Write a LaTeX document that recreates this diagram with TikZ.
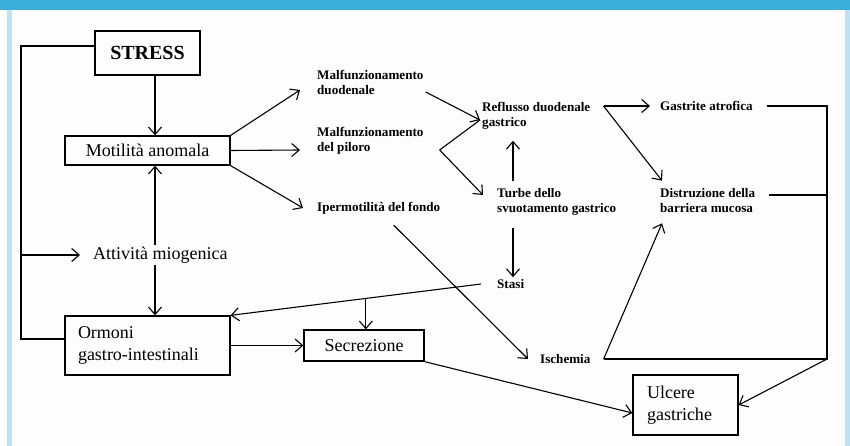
\documentclass[tikz,border=0pt]{standalone}
\usepackage{fontspec}
\setmainfont{Liberation Serif}
\usetikzlibrary{calc,arrows.meta}
\definecolor{barblue}{RGB}{58,174,216}
\definecolor{sideblue}{RGB}{192,225,241}
\definecolor{paper}{RGB}{253,253,253}

\begin{document}
\begin{tikzpicture}[x=1pt,y=-1pt]

% definitions
\tikzstyle{box} = [rectangle, draw=black, line width=1.3pt, inner sep=0pt]

\tikzstyle{stressbox} = [box, minimum width=105pt, minimum height=44pt, font=\bfseries\fontsize{20}{24}\selectfont]

\tikzstyle{wbox} = [box, minimum width=165pt, font=\fontsize{18}{21.6}\selectfont]

\tikzstyle{cause} = [anchor=west, align=left, inner sep=2pt, font=\bfseries\fontsize{13.1}{15}\selectfont]

\tikzstyle{arrow} = [-{Straight Barb[length=7.5pt,width=13pt]}, line width=1.1pt]

\tikzstyle{link} = [line width=1.1pt]

% frame
\useasboundingbox (0,0) rectangle (850,446);
\fill [paper] (0,0) rectangle (850,446);
\fill [barblue] (0,0) rectangle (850,10);
\fill [sideblue] (7,10) rectangle (12,446);
\fill [sideblue] (845,10) rectangle (850,446);

% the graph
\node (stress) [stressbox] at (147.5,53) {STRESS};

\node (mot) [wbox, minimum height=29pt] at (147.5,150.5) {Motilità anomala};

\node (att) [anchor=west, inner sep=2pt, font=\fontsize{18}{21.6}\selectfont] at (91,255) {Attività miogenica};

\node (orm) [wbox, minimum height=59pt, text width=139pt, inner xsep=13pt, align=left] at (147.5,345.5) {Ormoni\\gastro-intestinali};

\node (sec) [box, minimum width=120pt, minimum height=31pt, font=\fontsize{18}{21.6}\selectfont] at (364,345.5) {Secrezione};

\node (ulc) [box, minimum width=105pt, minimum height=60pt, text width=77pt, inner xsep=14pt, align=left, font=\fontsize{18}{21.6}\selectfont] at (685.5,405) {Ulcere\\gastriche};

\node (duo) [cause] at (315,82) {Malfunzionamento\\duodenale};
\node (pil) [cause] at (315,141) {Malfunzionamento\\del piloro};
\node (ipe) [cause] at (315,208) {Ipermotilità del fondo};
\node (ref) [cause] at (480,116) {Reflusso duodenale\\gastrico};
\node (tur) [cause] at (495,202) {Turbe dello\\svuotamento gastrico};
\node (sta) [cause] at (495,284) {Stasi};
\node (isc) [cause] at (538,359) {Ischemia};
\node (gas) [cause] at (658,106) {Gastrite atrofica};
\node (dis) [cause] at (658,201) {Distruzione della\\barriera mucosa};

% helper points
\coordinate (vx) at (155,0);
\coordinate (lx) at (21,0);
\coordinate (bx) at (827,0);
\coordinate (tx) at ($(tur.west)+(18,0)$);
\coordinate (sl) at ([yshift=7pt]stress.west);
\coordinate (ol) at ([yshift=6.5pt]orm.west);
\coordinate (rj) at ([yshift=-4pt]ref.west);
\coordinate (pv) at ($(pil.east)+(14,9)$);
\coordinate (rv) at ($(ref.east)+(11,-10)$);
\coordinate (iv) at ($(isc.east)+(11,0)$);
\coordinate (sa) at ([xshift=-14pt]sta.west);
\coordinate (sb) at ($(sa)!0.46!(orm.north east)$);
\coordinate (dr) at ([xshift=12pt,yshift=6pt]dis.east);

% left side
\draw [arrow] (stress.south -| vx) -- (mot.north -| vx);
\draw [arrow] (att.north -| vx) -- (mot.south -| vx);
\draw [arrow] (att.south -| vx) -- (orm.north -| vx);
\draw [link] (sl) -| (lx |- ol) -- (ol);
\draw [arrow] (lx |- att.west) -- ([xshift=-11pt]att.west);
\draw [arrow] (orm.east) -- (sec.west);

% motility branches
\draw [arrow] (mot.north east) -- ([xshift=-15pt,yshift=-8pt]duo.west);
\draw [arrow] (mot.east) -- ([xshift=-15pt,yshift=-9pt]pil.west);
\draw [arrow] (mot.south east) -- ([xshift=-12pt]ipe.west);

% reflux and emptying
\draw [arrow] ([yshift=-10pt]duo.east) -- (rj);
\draw [link] (pv) -- (rj);
\draw [arrow] (pv) -- ([xshift=-12pt,yshift=7pt]tur.west);
\draw [arrow, shorten <=5pt, shorten >=9pt] (tur.north -| tx) -- (ref.south -| tx);
\draw [arrow, shorten <=10pt] (tur.south -| tx) -- (sta.north -| tx);

% stasis and secretion
\draw [arrow] (sa) -- (orm.north east);
\draw [arrow] (sb) -- (sb |- sec.north);
\draw [arrow] (sec.south east) -- ([yshift=-8pt]ulc.west);
\draw [arrow] ([xshift=15pt,yshift=-9pt]ipe.south) -- ([xshift=-10pt]isc.west);

% right side
\draw [arrow] (rv) -- ([xshift=-8pt]gas.west);
\draw [arrow] (rv) -- ([xshift=4pt,yshift=6pt]dis.north west);
\draw [arrow] (iv) -- ([xshift=4pt,yshift=-8pt]dis.south west);
\draw [link] ([xshift=12pt]gas.east) -| (bx |- iv) -- (iv);
\draw [link] (dr) -- (dr -| bx);
\draw [arrow] (bx |- iv) -- (ulc.east);

\end{tikzpicture}
\end{document}
